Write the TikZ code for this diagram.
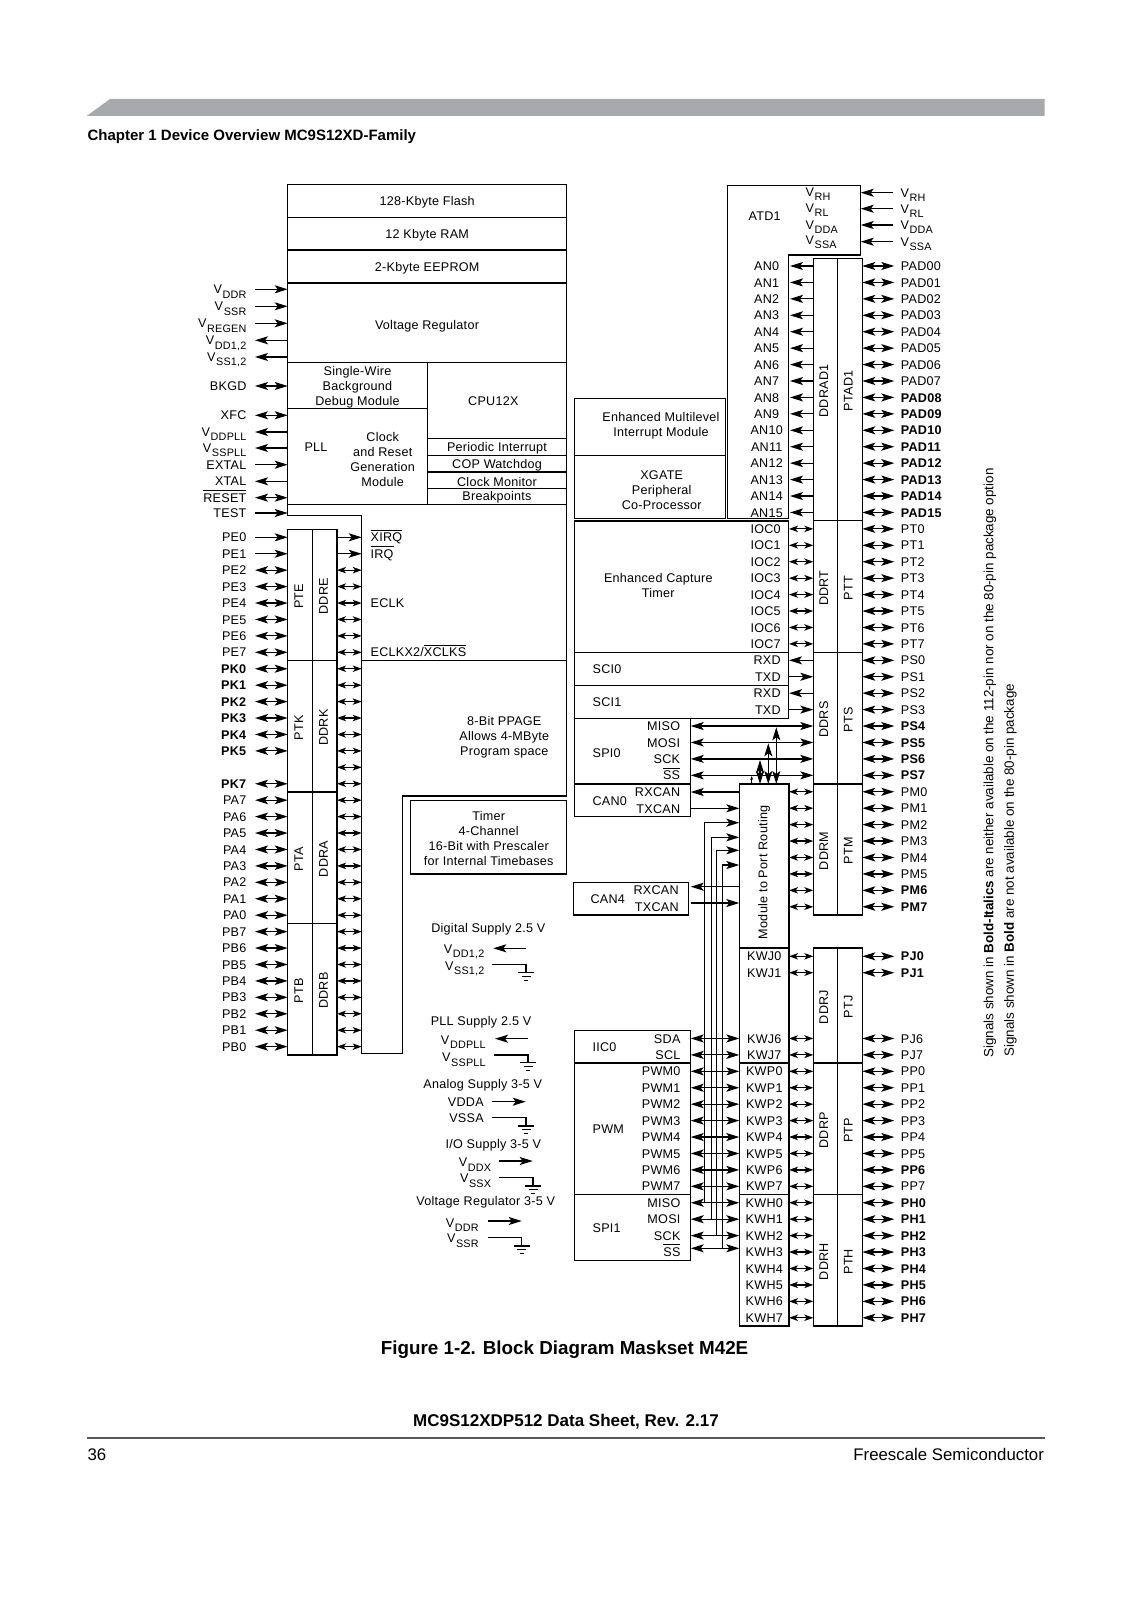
\documentclass[tikz,border=0pt]{standalone}
\usepackage{fontspec}
\usepackage{graphicx}
\setmainfont[LetterSpace=2]{Liberation Sans}
\newfontfamily\plainfont{Liberation Sans}
\usetikzlibrary{arrows.meta, positioning, fit}
\definecolor{bandgray}{HTML}{A7A9AC}
\newcommand{\pinfont}{\fontsize{6.3}{7.5}\selectfont}
\newcommand{\Vs}[1]{V\kern.05em{\fontsize{5.4}{6}\selectfont\raisebox{-.4em}{#1}}}
\newcommand{\ovl}[1]{$\overline{\mbox{#1}}$}
\newcommand{\yL}[1]{537.3+16.43*#1}
\newcommand{\yR}[1]{266+16.43*#1}
\newcommand{\yK}[1]{956.3+16.43*#1}
\tikzset{earth/.pic={\draw (-8,0) -- (8,0) (-4.5,3.7) -- (4.5,3.7) (-2,7.5) -- (2,7.5);}}

\begin{document}
\begin{tikzpicture}[
  x=0.5pt, y=-0.5pt,
  line width=0.6pt,
  >={Stealth[length=6.5pt, width=4pt, inset=1.5pt]},
  every node/.style={font=\pinfont},
  every label/.style={inner sep=0pt, align=center, yshift=-0.7pt},
  block/.style={rectangle, draw=black, inner sep=0pt, outer sep=0pt},
  txt/.style={inner sep=0pt, align=center},
  pinl/.style={inner sep=0pt, text height=4.6pt, text depth=0pt},
  tag/.style={pinl, anchor=west},
  short/.style={>={Stealth[length=4.5pt, width=3.2pt, inset=1.2pt]}},
  page/.style={inner sep=0pt, font=\plainfont\bfseries\fontsize{7.5}{9}\selectfont}
]
\useasboundingbox (0,0) rectangle (1131,1600);

% Page furniture
\fill[fill=bandgray] (86.7,116) -- (110,99) -- (1044.5,99) -- (1044.5,116) -- cycle;
\node[page, anchor=west] (chapter) at (87,137) {Chapter 1 Device Overview MC9S12XD-Family};
\node[page, font=\plainfont\bfseries\fontsize{9.4}{11}\selectfont] (figTitle) at (564.6,1349.5) {Figure 1-2. Block Diagram Maskset M42E};
\node[page, font=\plainfont\bfseries\fontsize{8.5}{9}\selectfont] (sheet) at (566,1422) {MC9S12XDP512 Data Sheet, Rev. 2.17};
\draw[line width=0.9pt, black!65!white] (87,1438) -- (1044.5,1438);
\node[page, anchor=west, font=\plainfont\fontsize{8.4}{10}\selectfont] (pageNo) at (87,1454.5) {36};
\node[page, anchor=east, font=\plainfont\fontsize{8.4}{10}\selectfont] (vendor) at (1044.5,1454.5) {Freescale Semiconductor};
\node[rotate=90, anchor=west, inner sep=0pt, font=\plainfont\fontsize{6.7}{8}\selectfont] (noteA) at (990,1058) {Signals shown in \textbf{Bold-Italics} are neither available on the 112-pin nor on the 80-pin package option};
\node[rotate=90, anchor=west, inner sep=0pt, font=\plainfont\fontsize{6.7}{8}\selectfont] (noteB) at (1010.5,1057) {Signals shown in \textbf{Bold} are not available on the 80-pin package};

% Memory and core blocks
\node[block, fit={(287.7,184.7) (566.7,217.3)}, label={center:128-Kbyte Flash}] (flash) {};
\node[block, fit={(287.7,217.3) (566.7,250)}, label={center:12 Kbyte RAM}] (ram) {};
\node[block, fit={(287.7,250) (566.7,283)}, label={center:2-Kbyte EEPROM}] (eeprom) {};
\node[block, fit={(287.7,283) (566.7,362.3)}] (vreg) {};
\node[txt] (vregTxt) at (427,326.3) {Voltage Regulator};
\node[block, fit={(287.7,362.3) (427.3,408.7)}, label={center:Single-Wire\\Background\\Debug Module}] (bdm) {};
\node[block, fit={(427.3,362.3) (566.7,438.7)}] (cpu) {};
\node[txt] (cpuTxt) at (493.3,400.7) {CPU12X};
\node[block, fit={(287.7,408.7) (427.3,504.3)}] (crg) {};
\node[txt] (pllTxt) at (316,446.7) {PLL};
\node[txt] (crgTxt) at (382.7,459) {Clock\\and Reset\\Generation\\Module};
\node[block, fit={(427.3,438.7) (566.7,455.3)}, label={center:Periodic Interrupt}] (pit) {};
\node[block, fit={(427.3,455.3) (566.7,472)}, label={center:COP Watchdog}] (cop) {};
\node[block, fit={(427.3,472) (566.7,488.3)}, label={center:Clock Monitor}] (clkMon) {};
\node[block, fit={(427.3,488.3) (566.7,504.3)}, label={center:Breakpoints}] (brk) {};
\node[block, fit={(410.7,800.7) (566.7,874)}, label={center:Timer\\4-Channel\\16-Bit with Prescaler\\for Internal Timebases}] (tim) {};

% Core outline below the breakpoints
\draw (287.7,504.3) -- (287.7,515.3) -- (361.7,515.3) -- (361.7,1053.3) -- (402.7,1053.3) -- (402.7,796) -- (566.7,796) -- (566.7,504.3);
\draw (361.7,660.7) -- (566.7,660.7);
\coordinate (coreIn) at (361.7,537.3);
\node[tag] (xirq) at (370,\yL{0}) {\ovl{XIRQ}};
\node[tag] (irq) at (370,\yL{1}) {\ovl{IRQ}};
\node[tag] (eclk) at (370,\yL{4}) {ECLK};
\node[tag] (eclkx) at (370,\yL{7}) {ECLKX2/\ovl{XCLKS}};
\node[txt] (ppage) at (504.3,737) {8-Bit PPAGE\\Allows 4-MByte\\Program space};

% Left ports
\foreach \nm/\xa/\xb/\ya/\yb in {PTE/287.7/312.3/529.3/660.7, DDRE/312.3/337/529.3/660.7,
  PTK/287.7/312.3/660.7/792, DDRK/312.3/337/660.7/792,
  PTA/287.7/312.3/792/923.3, DDRA/312.3/337/792/923.3,
  PTB/287.7/312.3/923.3/1055, DDRB/312.3/337/923.3/1055}
  \node[block, fit={(\xa,\ya) (\xb,\yb)}, label={[xshift=-0.6pt]center:\rotatebox{90}{\nm}}] (\nm) {};

% Pins above the left ports
\foreach \txt/\tip/\y/\nm in {{\Vs{DDR}}/->/289.3/a, {\Vs{SSR}}/->/306.3/b, {\Vs{REGEN}}/->/323.3/c,
  {\Vs{DD1,2}}/<-/340.3/d, {\Vs{SS1,2}}/<-/357/e, BKGD/<->/386/f, XFC/<->/415.3/g,
  {\Vs{DDPLL}}/<-/432/h, {\Vs{SSPLL}}/<-/448/i, EXTAL/->/464.7/j, XTAL/<-/481.3/k,
  \ovl{RESET}/<->/497.7/l, TEST/->/513/m} {
  \coordinate (topPin\nm) at (255,\y);
  \node[pinl, left=4pt of topPin\nm] (topLbl\nm) {\txt};
  \draw[\tip] (topPin\nm) -- (topPin\nm -| vreg.west);
}

% Pins of the left ports
\foreach \txt/\tip [count=\i from 0] in {PE0/->, PE1/->, PE2/<->, PE3/<->, PE4/<->, PE5/<->, PE6/<->, PE7/<->,
  \textbf{PK0}/<->, \textbf{PK1}/<->, \textbf{PK2}/<->, \textbf{PK3}/<->, \textbf{PK4}/<->, \textbf{PK5}/<->} {
  \coordinate (leftPin\i) at (255,\yL{\i});
  \node[pinl, left=4pt of leftPin\i] (leftLbl\i) {\txt};
  \draw[\tip] (leftPin\i) -- (leftPin\i -| PTE.west);
}
\foreach \txt [count=\i from 15] in {\textbf{PK7}, PA7, PA6, PA5, PA4, PA3, PA2, PA1, PA0, PB7, PB6, PB5, PB4, PB3, PB2, PB1, PB0} {
  \coordinate (leftPin\i) at (255,\yL{\i});
  \node[pinl, left=4pt of leftPin\i] (leftLbl\i) {\txt};
  \draw[<->] (leftPin\i) -- (leftPin\i -| PTE.west);
}
\draw[->] (DDRE.east |- xirq) -- (xirq -| coreIn);
\draw[->] (DDRE.east |- irq) -- (irq -| coreIn);
\foreach \i in {2,...,31} {
  \coordinate (leftIn\i) at (337,\yL{\i});
  \draw[short, <->] (leftIn\i) -- (leftIn\i -| coreIn);
}

% Supply groups
\node[txt] (digHead) at (488.3,929.3) {Digital Supply 2.5 V};
\node[pinl, anchor=east] (digVdd) at (485,949) {\Vs{DD1,2}};
\coordinate (digVddEnd) at (526,948.3);
\draw[->] (digVddEnd) -- (493.3,948.3);
\node[pinl, anchor=east] (digVss) at (485,965.7) {\Vs{SS1,2}};
\coordinate (digVssEnd) at (491.7,964.3);
\coordinate (digGnd) at (526,972.7);
\draw (digVssEnd) -| (digGnd) pic {earth};

\node[txt] (pllHead) at (481,1022.3) {PLL Supply 2.5 V};
\node[pinl, anchor=east] (pllVdd) at (486.3,1040) {\Vs{DDPLL}};
\coordinate (pllVddEnd) at (528.3,1038.7);
\draw[->] (pllVddEnd) -- (495,1038.7);
\node[pinl, anchor=east] (pllVss) at (486.3,1057.3) {\Vs{SSPLL}};
\coordinate (pllVssEnd) at (494.3,1055);
\coordinate (pllGnd) at (528,1062.7);
\draw (pllVssEnd) -| (pllGnd) pic {earth};

\node[txt] (anaHead) at (482.7,1085.7) {Analog Supply 3-5 V};
\node[pinl, anchor=east] (anaVdd) at (484.3,1101.7) {VDDA};
\coordinate (anaVddEnd) at (492.3,1101.7);
\draw[->] (anaVddEnd) -- (525.7,1101.7);
\node[pinl, anchor=east] (anaVss) at (484.3,1117.7) {VSSA};
\coordinate (anaVssEnd) at (492.3,1117.7);
\coordinate (anaGnd) at (526,1126);
\draw (anaVssEnd) -| (anaGnd) pic {earth};

\node[txt] (ioHead) at (493.3,1145.3) {I/O Supply 3-5 V};
\node[pinl, anchor=east] (ioVdd) at (491.7,1162.3) {\Vs{DDX}};
\coordinate (ioVddEnd) at (499.3,1161);
\draw[->] (ioVddEnd) -- (532.7,1161);
\node[pinl, anchor=east] (ioVss) at (491.7,1178.3) {\Vs{SSX}};
\coordinate (ioVssEnd) at (499.3,1177.3);
\coordinate (ioGnd) at (533,1186);
\draw (ioVssEnd) -| (ioGnd) pic {earth};

\node[txt] (regHead) at (485.7,1202.3) {Voltage Regulator 3-5 V};
\node[pinl, anchor=east] (regVdd) at (479.3,1222.7) {\Vs{DDR}};
\coordinate (regVddEnd) at (488.3,1221);
\draw[->] (regVddEnd) -- (521.7,1221);
\node[pinl, anchor=east] (regVss) at (479.3,1238.3) {\Vs{SSR}};
\coordinate (regVssEnd) at (488.3,1237.3);
\coordinate (regGnd) at (521.7,1246);
\draw (regVssEnd) -| (regGnd) pic {earth};

% Right ports
\foreach \nm/\xa/\xb/\ya/\yb in {DDRAD1/813.3/837.7/258.3/520.7, PTAD1/837.7/862.3/258.3/520.7,
  DDRT/813.3/837.7/520.7/652.7, PTT/837.7/862.3/520.7/652.7,
  DDRS/813.3/837.7/652.7/784, PTS/837.7/862.3/652.7/784,
  DDRM/813.3/837.7/784/915, PTM/837.7/862.3/784/915,
  DDRJ/813.3/837.7/948/1063, PTJ/837.7/862.3/948/1063,
  DDRP/813.3/837.7/1063/1194.7, PTP/837.7/862.3/1063/1194.7,
  DDRH/813.3/837.7/1194.7/1326, PTH/837.7/862.3/1194.7/1326}
  \node[block, fit={(\xa,\ya) (\xb,\yb)}, label={[xshift=-0.8pt]center:\rotatebox{90}{\nm}}] (\nm) {};

% ATD outline and reference pins
\draw (727.7,518.3) -- (727.7,185.7) -- (860.7,185.7) -- (860.7,255) -- (788.3,255) -- (788.3,518.3) -- cycle;
\node[tag] (atd) at (748,215.7) {ATD1};
\coordinate (atdEdge) at (860.7,225);
\foreach \txt/\y/\ylbl/\nm in {{\Vs{RH}}/192.7/191.7/a, {\Vs{RL}}/208.7/208/b, {\Vs{DDA}}/225/225/c, {\Vs{SSA}}/241.7/240/d} {
  \coordinate (refPin\nm) at (893.3,\y);
  \node[tag] (refIn\nm) at (805,\ylbl) {\txt};
  \node[pinl, right=3.3pt of refPin\nm] (refLbl\nm) {\txt};
  \draw[->] (refPin\nm) -- (refPin\nm -| atdEdge);
}

% Pins of the right ports, upper group
\foreach \txt [count=\i from 0] in {PAD00, PAD01, PAD02, PAD03, PAD04, PAD05, PAD06, PAD07,
  \textbf{PAD08}, \textbf{PAD09}, \textbf{PAD10}, \textbf{PAD11}, \textbf{PAD12}, \textbf{PAD13}, \textbf{PAD14}, \textbf{PAD15},
  PT0, PT1, PT2, PT3, PT4, PT5, PT6, PT7, PS0, PS1, PS2, PS3,
  \textbf{PS4}, \textbf{PS5}, \textbf{PS6}, \textbf{PS7},
  PM0, PM1, PM2, PM3, PM4, PM5, \textbf{PM6}, \textbf{PM7}} {
  \coordinate (rightPin\i) at (894.3,\yR{\i});
  \node[pinl, right=3pt of rightPin\i] (rightLbl\i) {\txt};
  \draw[<->] (rightPin\i) -- (rightPin\i -| PTAD1.east);
}

% Pins of the right ports, lower group
\foreach \kw/\txt/\j in {KWJ0/\textbf{PJ0}/0, KWJ1/\textbf{PJ1}/1, KWJ6/PJ6/5, KWJ7/PJ7/6,
  KWP0/PP0/7, KWP1/PP1/8, KWP2/PP2/9, KWP3/PP3/10, KWP4/PP4/11, KWP5/PP5/12, KWP6/\textbf{PP6}/13, KWP7/PP7/14,
  KWH0/\textbf{PH0}/15, KWH1/\textbf{PH1}/16, KWH2/\textbf{PH2}/17, KWH3/\textbf{PH3}/18,
  KWH4/\textbf{PH4}/19, KWH5/\textbf{PH5}/20, KWH6/\textbf{PH6}/21, KWH7/\textbf{PH7}/22} {
  \coordinate (lowPin\j) at (894.3,\yK{\j});
  \node[pinl, right=3pt of lowPin\j] (lowLbl\j) {\txt};
  \draw[<->] (lowPin\j) -- (lowPin\j -| PTJ.east);
  \node[pinl] (kw\j) at (764.3,\yK{\j}) {\kw};
  \coordinate (lowIn\j) at (789,\yK{\j});
  \draw[short, <->] (lowIn\j) -- (lowIn\j -| DDRJ.west);
}

% Analog channels
\foreach \i in {0,...,15} {
  \node[pinl] (an\i) at (766.7,\yR{\i}) {AN\i};
  \coordinate (anIn\i) at (790,\yR{\i});
  \draw[<-] (anIn\i) -- (anIn\i -| DDRAD1.west);
}

% Peripheral blocks
\node[block, fit={(574.7,398.3) (725.7,455.3)}] (xint) {};
\node[txt] (xintTxt) at (661,425.8) {Enhanced Multilevel\\Interrupt Module};
\node[block, fit={(574.7,455.3) (725.7,518.3)}] (xgate) {};
\node[txt] (xgateTxt) at (661.7,490) {XGATE\\Peripheral\\Co-Processor};
\node[block, fit={(574.7,521) (788.3,652.7)}] (ect) {};
\node[txt] (ectTxt) at (658.3,585.8) {Enhanced Capture\\Timer};
\node[block, fit={(574.7,652.7) (788.3,685.3)}] (sciA) {};
\node[tag] (sciATxt) at (592,669.3) {SCI0};
\node[block, fit={(574.7,685.3) (788.3,718.3)}] (sciB) {};
\node[tag] (sciBTxt) at (592,702.3) {SCI1};
\node[block, fit={(574.7,718.3) (690.3,784)}] (spiA) {};
\node[tag] (spiATxt) at (592,752.7) {SPI0};
\node[block, fit={(574.7,784) (690.3,816.7)}] (canA) {};
\node[tag] (canATxt) at (592,801.3) {CAN0};
\node[block, fit={(573.3,882.3) (688.7,915)}] (canB) {};
\node[tag] (canBTxt) at (590,899.3) {CAN4};
\node[block, fit={(574.7,1030.3) (690.3,1063)}] (iic) {};
\node[tag] (iicTxt) at (592,1047.3) {IIC0};
\node[block, fit={(574.7,1063) (690.3,1194.7)}] (pwm) {};
\node[tag] (pwmTxt) at (592,1129.3) {PWM};
\node[block, fit={(574.7,1194.7) (690.3,1260.3)}] (spiB) {};
\node[tag] (spiBTxt) at (592,1228.3) {SPI1};

% Module routing column
\node[block, fit={(739.3,784) (789,948)}] (modRoute) {};
\node[txt, rotate=90] (modRouteTxt) at (764,872.3) {Module to Port Routing};
\node[block, fit={(739.3,948) (789,1063)}] (kwj) {};
\node[block, fit={(739.3,1063) (789,1194.7)}] (kwp) {};
\node[block, fit={(739.3,1194.7) (789,1326)}] (kwh) {};

% Capture, serial and CAN signals
\foreach \txt [count=\i from 16] in {IOC0, IOC1, IOC2, IOC3, IOC4, IOC5, IOC6, IOC7} {
  \node[pinl, anchor=east] (ioc\i) at (781.3,\yR{\i}) {\txt};
  \coordinate (iocIn\i) at (789,\yR{\i});
  \draw[short, <->] (iocIn\i) -- (iocIn\i -| DDRT.west);
}
\foreach \txt/\tip/\i in {RXD/<-/24, TXD/->/25, RXD/<-/26, TXD/->/27} {
  \node[pinl, anchor=east] (sci\i) at (781.3,\yR{\i}) {\txt};
  \coordinate (sciIn\i) at (789,\yR{\i});
  \draw[\tip] (sciIn\i) -- (sciIn\i -| DDRS.west);
}
\foreach \txt/\i in {MISO/28, MOSI/29, SCK/30, \ovl{SS}/31} {
  \node[pinl, anchor=east] (spi\i) at (680.7,\yR{\i}) {\txt};
  \coordinate (spiIn\i) at (690.7,\yR{\i});
  \draw[<->] (spiIn\i) -- (spiIn\i -| DDRS.west);
}
\foreach \i in {32,...,39} {
  \coordinate (modOut\i) at (789,\yR{\i});
  \draw[short, <->] (modOut\i) -- (modOut\i -| DDRM.west);
}
\foreach \vx/\vy in {760/760, 768.3/743.3, 776.3/727.3} {
  \coordinate (spiUp) at (\vx,\vy);
  \draw[<->] (spiUp) -- (spiUp |- modRoute.north);
}
\coordinate (spiTick) at (751.7,776);
\draw[-{Stealth[length=2pt, width=1.5pt]}, line width=0.4pt] (spiTick |- modRoute.north) -- (spiTick);
\node[pinl, anchor=east] (canARx) at (680.7,792.3) {RXCAN};
\node[pinl, anchor=east] (canATx) at (680.7,808.4) {TXCAN};
\coordinate (canARxEnd) at (690.7,792);
\coordinate (canATxEnd) at (690.7,808.3);
\draw[<-] (canARxEnd) -- (canARxEnd -| modRoute.west);
\draw[->] (canATxEnd) -- (canATxEnd -| modRoute.west);
\node[pinl, anchor=east] (canBRx) at (679.3,890) {RXCAN};
\node[pinl, anchor=east] (canBTx) at (679.3,907) {TXCAN};
\coordinate (canBRxEnd) at (690.7,886.7);
\coordinate (canBTxEnd) at (690.7,903);
\draw[<-] (canBRxEnd) -- (canBRxEnd -| modRoute.west);
\draw[->] (canBTxEnd) -- (canBTxEnd -| modRoute.west);

% Routes from the key wake-up rows back to the module
\foreach \vx/\ya/\yb in {704.7/822.7/1203.3, 711.3/837.3/1219.3, 716.7/850.3/1235, 722.7/865/1248.3} {
  \coordinate (routeLow) at (\vx,\yb);
  \coordinate (routeHigh) at (\vx,\ya);
  \draw[->] (routeLow) |- (routeHigh -| modRoute.west);
}

% Signals into the key wake-up rows
\foreach \txt/\j in {SDA/5, SCL/6, PWM0/7, PWM1/8, PWM2/9, PWM3/10, PWM4/11, PWM5/12, PWM6/13, PWM7/14, MISO/15, MOSI/16, SCK/17} {
  \node[pinl, anchor=east] (sig\j) at (681,\yK{\j}) {\txt};
  \coordinate (sigIn\j) at (690.7,\yK{\j});
  \draw[<->] (sigIn\j) -- (sigIn\j -| kwj.west);
}
\node[pinl, anchor=east] (sigSS) at (681,1251.7) {\ovl{SS}};
\coordinate (sigInSS) at (690.7,1248.3);
\draw[<->] (sigInSS) -- (sigInSS -| kwh.west);

\end{tikzpicture}
\end{document}
